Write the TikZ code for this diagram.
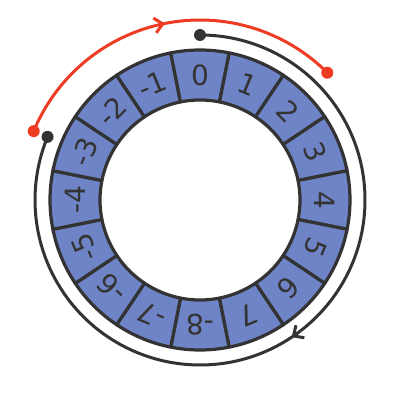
\documentclass[tikz,border=0pt]{standalone}
\usepackage{fontspec}
\setmainfont{DejaVu Sans}
\usetikzlibrary{arrows.meta,decorations.markings}
\definecolor{ringblue}{HTML}{6F84C6}
\definecolor{ringdark}{HTML}{333333}
\definecolor{ringred}{HTML}{EE3B24}
\begin{document}
\begin{tikzpicture}[x=1pt,y=1pt,
  seg/.style={draw=ringdark,fill=ringblue,line width=3.2pt,line join=round},
  lbl/.style={text=ringdark,font=\fontsize{28}{28}\selectfont,inner sep=0pt},
  arcline/.style={line width=3pt},
  midarrow/.style={postaction={decorate},decoration={markings,
    mark=at position 0.5 with {\arrow{Straight Barb[length=8pt,width=15pt,line width=3pt]}}}}]
\useasboundingbox (0,0) rectangle (400,400);
\coordinate (c) at (200,200);
\foreach \k in {-8,...,7} {
  \pgfmathsetmacro\a{90-22.5*\k}
  \pgfmathsetmacro\aa{\a+11.25}
  \pgfmathsetmacro\ab{\a-11.25}
  \pgfmathtruncatemacro\i{\k+8}
  \draw[seg] ([shift={(\aa:150)}]c) arc[start angle=\aa,end angle=\ab,radius=150]
    -- ([shift={(\ab:100)}]c) arc[start angle=\ab,end angle=\aa,radius=100] -- cycle;
  \node[lbl,rotate=-22.5*\k] (n\i) at ([shift={(\a:125)}]c) {\k};
}
\coordinate (bs) at ([shift={(90:165)}]c);
\coordinate (be) at ([shift={(157.5:165)}]c);
\draw[ringdark,arcline,midarrow] (bs) arc[start angle=90,end angle=-202.5,radius=165];
\fill[ringdark] (bs) circle (6);
\fill[ringdark] (be) circle (6);
\coordinate (rs) at ([shift={(157.5:180)}]c);
\coordinate (re) at ([shift={(45:180)}]c);
\draw[ringred,arcline,midarrow] (rs) arc[start angle=157.5,end angle=45,radius=180];
\fill[ringred] (rs) circle (6);
\fill[ringred] (re) circle (6);
\end{tikzpicture}
\end{document}
